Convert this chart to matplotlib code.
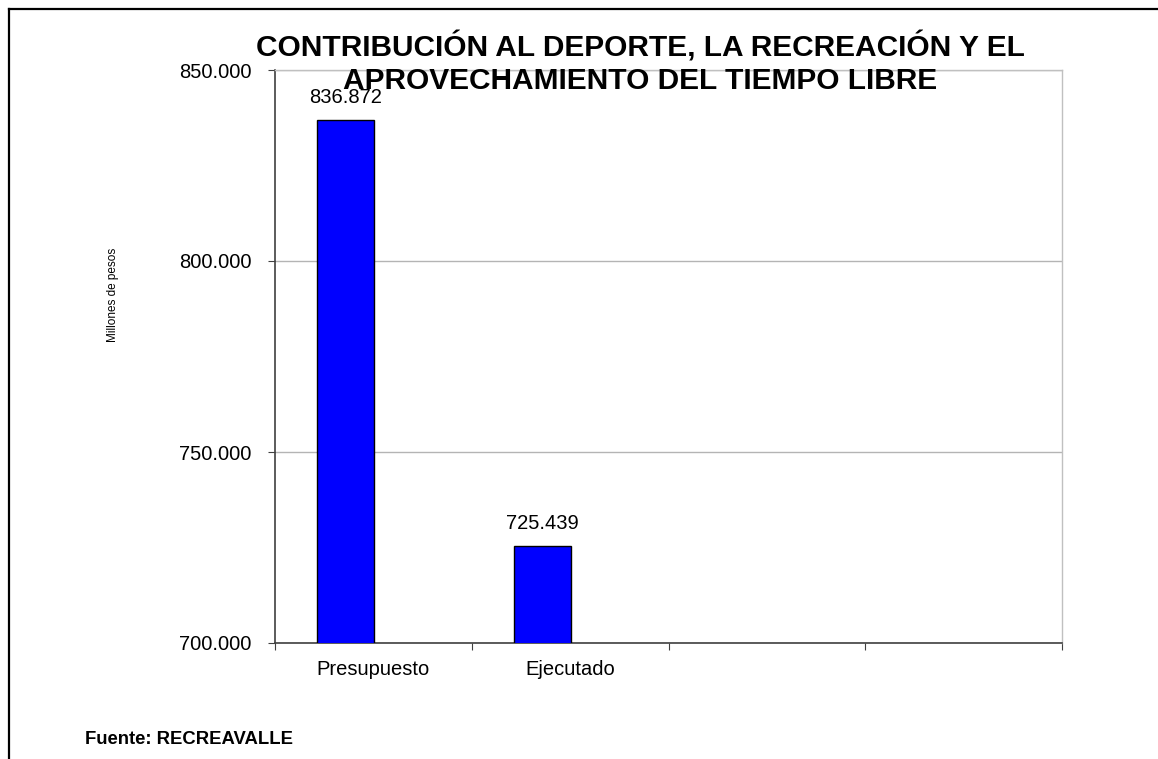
import matplotlib.pyplot as plt
from matplotlib.lines import Line2D
from matplotlib.ticker import FuncFormatter

# Data (millones de pesos)
categories = ["Presupuesto", "Ejecutado", "", ""]
values = [836872, 725439]
title = "CONTRIBUCIÓN AL DEPORTE, LA RECREACIÓN Y EL\nAPROVECHAMIENTO DEL TIEMPO LIBRE"
source = "Fuente: RECREAVALLE"

plt.rcParams['font.family'] = ['Liberation Sans', 'DejaVu Sans']


def fmt_miles(v, pos=None):
    return f"{v:,.0f}".replace(",", ".")


fig = plt.figure(figsize=(11.58, 7.59), dpi=100)
ax = fig.add_axes([275 / 1158, 1 - 643 / 759, 787 / 1158, 573 / 759])

bar_w = 0.29
offset = -0.142
xs = [i + offset for i in range(len(values))]
ax.bar(xs, values, width=bar_w, color="#0000FF", edgecolor="black",
       linewidth=1.0, zorder=3)
for x, v in zip(xs, values):
    ax.annotate(fmt_miles(v), (x, v), xytext=(0, 16), textcoords="offset points",
                ha="center", va="center", fontsize=14.5, zorder=4)

ax.set_xlim(-0.5, len(categories) - 0.5)
ax.set_ylim(700000, 850000)
ax.set_yticks([700000, 750000, 800000, 850000])
ax.yaxis.set_major_formatter(FuncFormatter(fmt_miles))
ax.yaxis.grid(True, color="#b4b4b4", linewidth=1.0, zorder=0)

# category boundaries as major ticks, names centred on minor ticks
ax.set_xticks([i - 0.5 for i in range(len(categories) + 1)])
ax.set_xticklabels([])
ax.set_xticks(range(len(categories)), minor=True)
ax.set_xticklabels(categories, minor=True)
ax.tick_params(axis="x", which="major", length=5, color="#404040", direction="out")
ax.tick_params(axis="x", which="minor", length=0, pad=12, labelsize=14.5)
ax.tick_params(axis="y", length=5, color="#404040", labelsize=14.5, pad=12)

for side in ("left", "bottom"):
    ax.spines[side].set_color("#404040")
    ax.spines[side].set_linewidth(1.2)
for side in ("top", "right"):
    ax.spines[side].set_color("#c0c0c0")
    ax.spines[side].set_linewidth(1.0)

fig.text(113 / 1158, 1 - 295 / 759, "Millones de pesos", rotation=90,
         ha="center", va="center", fontsize=8.5)

fig.text(640 / 1158, 1 - 63 / 759, title, ha="center", va="center",
         fontsize=21.5, fontweight="bold", linespacing=1.2)
fig.text(85 / 1158, 1 - 740 / 759, source, ha="left", va="center",
         fontsize=13.3, fontweight="bold")

# outer frame (left and top edges)
fig.add_artist(Line2D([9 / 1158, 9 / 1158], [0, 1 - 9 / 759], color="black",
                      linewidth=1.6, transform=fig.transFigure))
fig.add_artist(Line2D([9 / 1158, 1], [1 - 9 / 759, 1 - 9 / 759], color="black",
                      linewidth=1.6, transform=fig.transFigure))

fig.savefig("out.png", dpi=100)
